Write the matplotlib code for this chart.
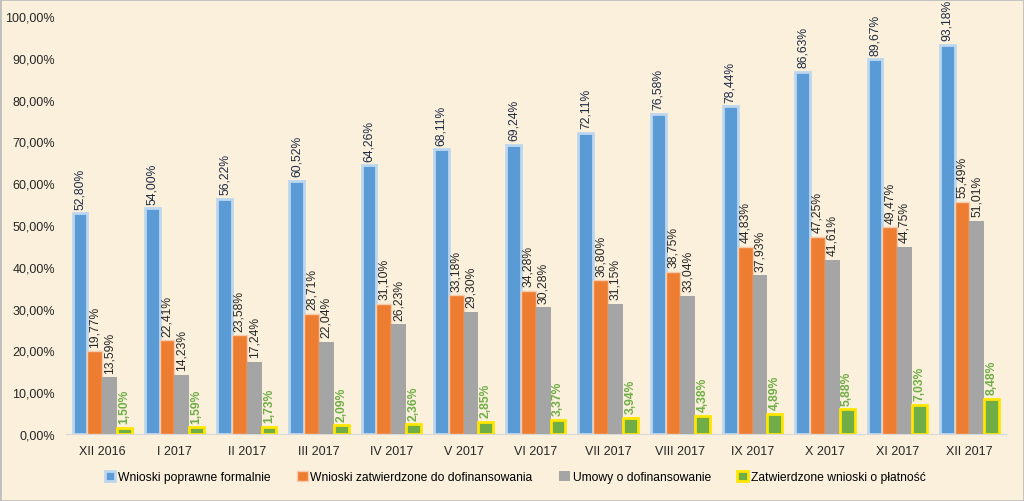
import numpy as np
import matplotlib.pyplot as plt
from matplotlib.ticker import FuncFormatter

plt.rcParams['font.family'] = ['Liberation Sans', 'DejaVu Sans']

# dane
kategorie = ["XII 2016", "I 2017", "II 2017", "III 2017", "IV 2017", "V 2017", "VI 2017",
             "VII 2017", "VIII 2017", "IX 2017", "X 2017", "XI 2017", "XII 2017"]
poprawne = [52.80, 54.00, 56.22, 60.52, 64.26, 68.11, 69.24, 72.11, 76.58, 78.44, 86.63, 89.67, 93.18]
zatwierdzone = [19.77, 22.41, 23.58, 28.71, 31.10, 33.18, 34.28, 36.80, 38.75, 44.83, 47.25, 49.47, 55.49]
umowy = [13.59, 14.23, 17.24, 22.04, 26.23, 29.30, 30.28, 31.15, 33.04, 37.93, 41.61, 44.75, 51.01]
platnosci = [1.50, 1.59, 1.73, 2.09, 2.36, 2.85, 3.37, 3.94, 4.38, 4.89, 5.88, 7.03, 8.48]

serie = [
    ("Wnioski poprawne formalnie", poprawne, "#5B9BD5", "#BDD7EE", 2.0, "#1F2A44", "normal"),
    ("Wnioski zatwierdzone do dofinansowania", zatwierdzone, "#ED7D31", "#F8CBAD", 1.0, "#262626", "normal"),
    ("Umowy o dofinansowanie", umowy, "#A5A5A5", "#A5A5A5", 0.0, "#262626", "normal"),
    ("Zatwierdzone wnioski o płatność", platnosci, "#70AD47", "#FFE600", 2.0, "#70AD47", "bold"),
]

bg = "#FAF0DC"
fig = plt.figure(figsize=(10.24, 5.02), dpi=100, facecolor=bg)
ax = fig.add_axes([0.0645, 0.1335, 0.9175, 0.8325])
ax.set_facecolor(bg)

x = np.arange(len(kategorie))
w = 0.205
for i, (nazwa, vals, kol, edge, lw, tkol, weight) in enumerate(serie):
    pos = x + (i - 1.5) * w
    ax.bar(pos, vals, w, color=kol, edgecolor=edge, linewidth=lw, label=nazwa, zorder=3)
    for p, v in zip(pos, vals):
        ax.text(p, v + 1.1, f"{v:.2f}%".replace(".", ","), rotation=90,
                ha="center", va="bottom", fontsize=8.7, color=tkol, fontweight=weight)

ax.set_xlim(-0.5, len(kategorie) - 0.5)
ax.set_ylim(0, 100)
ax.set_yticks(np.arange(0, 101, 10))
ax.yaxis.set_major_formatter(FuncFormatter(lambda v, _: f"{v:.2f}%".replace(".", ",")))
ax.set_xticks(x)
ax.set_xticklabels(kategorie)
ax.tick_params(axis="both", length=0, labelsize=9, colors="#262626")
ax.tick_params(axis="x", pad=8)
ax.tick_params(axis="y", pad=8)
for s in ["top", "right", "left"]:
    ax.spines[s].set_visible(False)
ax.spines["bottom"].set_color("#D9D9D9")

fig.legend(loc="center", bbox_to_anchor=(0.503, 0.047), ncol=4, frameon=False,
           fontsize=8.7, handlelength=0.9, handleheight=0.9, handletextpad=0.2,
           columnspacing=2.2)

fig.patches.append(plt.Rectangle((0, 0), 1, 1, transform=fig.transFigure,
                                 fill=False, edgecolor="#BFBFBF", linewidth=2))

fig.savefig("out.png", dpi=100, facecolor=bg)
